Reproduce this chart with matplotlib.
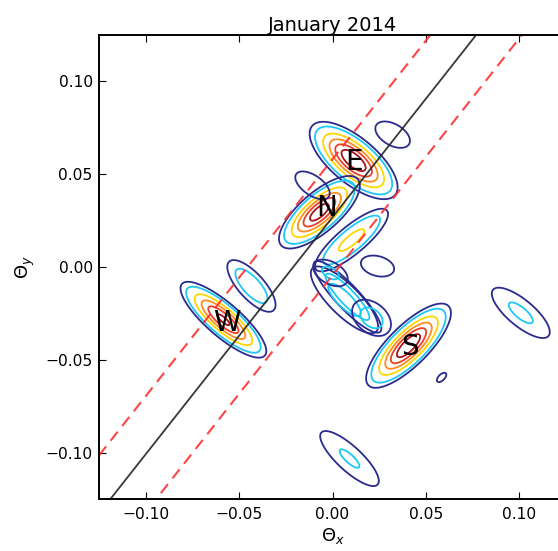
import numpy as np
import matplotlib
matplotlib.use("Agg")
import matplotlib.pyplot as plt
from matplotlib.ticker import FuncFormatter

# Source blobs: centre, widths along major/minor axis, tilt (deg), peak
blob_x = [0.0113, -0.0070, -0.0107, -0.0584, 0.0407, 0.0102, 0.0322, 0.0241, 0.0584,
          0.1008, 0.0091, -0.0434, 0.0080, 0.0064, 0.0209, -0.0011]
blob_y = [0.0574, 0.0295, 0.0440, -0.0284, -0.0424, 0.0145, 0.0713, 0.0005, -0.0595,
          -0.0247, -0.1032, -0.0102, -0.0161, -0.0177, -0.0274, -0.0032]
blob_sa = [0.0135, 0.0128, 0.0118, 0.0141, 0.0141, 0.0150, 0.0124, 0.0111, 0.0053,
           0.0171, 0.0188, 0.0128, 0.0190, 0.0205, 0.0094, 0.0086]
blob_sb = [0.0057, 0.0050, 0.0059, 0.0043, 0.0050, 0.0045, 0.0070, 0.0065, 0.0027,
           0.0062, 0.0060, 0.0050, 0.0047, 0.0069, 0.0064, 0.0050]
blob_ang = [-40, 41, -35, -41, 45, 40, -30, -15, 45,
            -40, -43, -48, -47, -45, -40, -30]
blob_amp = [1.0, 0.95, 0.15, 0.88, 1.0, 0.39, 0.14, 0.14, 0.12,
            0.19, 0.182, 0.26, 0.25, 0.2, 0.22, 0.2]

levels = [0.1, 0.17, 0.33, 0.5, 0.67, 0.84]
level_colors = ["#2b2b8f", "#1ec8f5", "#ffd700", "#ff8c1e", "#e8402a", "#a8141a"]

# Source labels
label_text = ["W", "N", "E", "S"]
label_x = [-0.0568, -0.0032, 0.0118, 0.0413]
label_y = [-0.0300, 0.0317, 0.0568, -0.0429]

# Reference band: central line and its two edges
line_slope = 1.277
line_x0 = -0.021
band_dx = [-0.0245, 0.0245]

xlim = (-0.125, 0.125)
ylim = (-0.125, 0.125)
ticks = [-0.10, -0.05, 0.00, 0.05, 0.10]

fig = plt.figure(figsize=(5.58, 5.51), dpi=100)
ax = fig.add_axes([99 / 558, 52 / 551, 467 / 558, 464 / 551])

gx = np.linspace(xlim[0], xlim[1], 500)
gy = np.linspace(ylim[0], ylim[1], 500)
X, Y = np.meshgrid(gx, gy)

for x0, y0, sa, sb, ang, amp in zip(blob_x, blob_y, blob_sa, blob_sb, blob_ang, blob_amp):
    t = np.deg2rad(ang)
    u = (X - x0) * np.cos(t) + (Y - y0) * np.sin(t)
    v = -(X - x0) * np.sin(t) + (Y - y0) * np.cos(t)
    Z = amp * np.exp(-(u ** 2 / (2 * sa ** 2) + v ** 2 / (2 * sb ** 2)))
    use = [l for l in levels if l < amp]
    ax.contour(X, Y, Z, levels=use, colors=level_colors[:len(use)], linewidths=1.3)

xs = np.array(xlim)
ax.plot(xs, line_slope * (xs - line_x0), color="#222222", lw=1.3, alpha=0.9)
for d in band_dx:
    ax.plot(xs, line_slope * (xs - line_x0 - d), color="#ff3030", lw=1.5,
            alpha=0.9, dashes=(5.5, 3.5))

for s, x, y in zip(label_text, label_x, label_y):
    ax.text(x, y, s, fontsize=20, ha="center", va="center", color="black")

ax.set_xlim(xlim)
ax.set_ylim(ylim)
ax.set_xticks(ticks)
ax.set_yticks(ticks)
fmt = FuncFormatter(lambda v, p: ("%.2f" % v).replace("-", "\u2212"))
ax.xaxis.set_major_formatter(fmt)
ax.yaxis.set_major_formatter(fmt)
ax.tick_params(direction="in", top=True, right=True, length=5, width=0.8,
               labelsize=11.2)
ax.tick_params(axis="x", pad=5.5)
ax.tick_params(axis="y", pad=4.5)
for sp in ax.spines.values():
    sp.set_linewidth(1.4)

ax.set_title("January 2014", fontsize=14, pad=3)
ax.set_xlabel(r"$\Theta_x$", fontsize=13, labelpad=3)
ax.set_ylabel(r"$\Theta_y$", fontsize=13, labelpad=6)

fig.savefig("out.png", dpi=100)
